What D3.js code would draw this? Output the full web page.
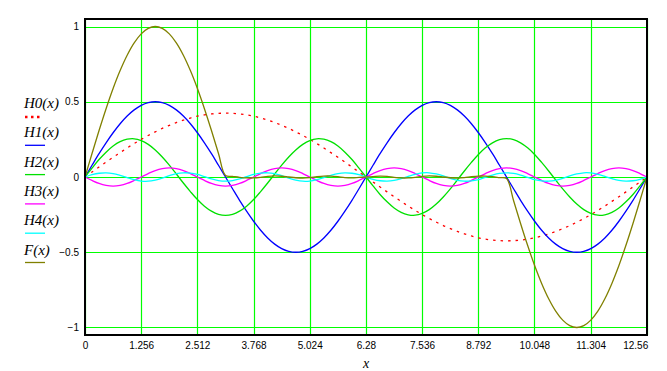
<!DOCTYPE html>
<html>
<head>
<script src="https://d3js.org/d3.v7.min.js"></script>
<style>
    body { margin: 0; background: #fff; }
    svg { display: block; }
    .tick text { font-family: 'Liberation Sans', Arial, sans-serif; font-size: 10px; fill: #000; }
    .legend-label, .x-title { font-family: 'Liberation Serif', 'Times New Roman', serif; font-style: italic; fill: #000; }
    .grid-line { stroke: #00ff00; stroke-width: 1.2; }
    .trace { fill: none; stroke-width: 1.3; }
</style>
</head>
<body>
<div id="chart"></div>
<script>
// sample step along x (pi/20), 81 samples from 0 to 4*pi
const step = 0.15708;

const h0 = [0, .033, .066, .099, .131, .162, .193, .222, .250, .276, .300, .323, .343, .362, .378, .392, .404, .413, .419, .423, .424,
    .423, .419, .413, .404, .392, .378, .362, .343, .323, .300, .276, .250, .222, .193, .162, .131, .099, .066, .033, 0,
    -.033, -.066, -.099, -.131, -.162, -.193, -.222, -.250, -.276, -.300, -.323, -.343, -.362, -.378, -.392, -.404, -.413, -.419, -.423, -.424,
    -.423, -.419, -.413, -.404, -.392, -.378, -.362, -.343, -.323, -.300, -.276, -.250, -.222, -.193, -.162, -.131, -.099, -.066, -.033, 0];

const h1 = [0, .078, .155, .227, .294, .354, .405, .446, .476, .494, .5, .494, .476, .446, .405, .354, .294, .227, .155, .078, 0,
    -.078, -.155, -.227, -.294, -.354, -.405, -.446, -.476, -.494, -.5, -.494, -.476, -.446, -.405, -.354, -.294, -.227, -.155, -.078, 0,
    .078, .155, .227, .294, .354, .405, .446, .476, .494, .5, .494, .476, .446, .405, .354, .294, .227, .155, .078, 0,
    -.078, -.155, -.227, -.294, -.354, -.405, -.446, -.476, -.494, -.5, -.494, -.476, -.446, -.405, -.354, -.294, -.227, -.155, -.078, 0];

const h2 = [0, .059, .116, .165, .206, .235, .251, .254, .242, .217, .180, .133, .079, .020, -.040, -.097, -.150, -.194, -.227, -.248, -.255,
    -.248, -.227, -.194, -.150, -.097, -.040, .020, .079, .133, .180, .217, .242, .254, .251, .235, .206, .165, .116, .059, 0,
    -.059, -.116, -.165, -.206, -.235, -.251, -.254, -.242, -.217, -.180, -.133, -.079, -.020, .040, .097, .150, .194, .227, .248, .255,
    .248, .227, .194, .150, .097, .040, -.020, -.079, -.133, -.180, -.217, -.242, -.254, -.251, -.235, -.206, -.165, -.116, -.059, 0];

const h3 = [0, -.023, -.043, -.056, -.061, -.056, -.043, -.023, 0, .023, .043, .056, .061, .056, .043, .023,
    0, -.023, -.043, -.056, -.061, -.056, -.043, -.023, 0, .023, .043, .056, .061, .056, .043, .023,
    0, -.023, -.043, -.056, -.061, -.056, -.043, -.023, 0, .023, .043, .056, .061, .056, .043, .023,
    0, -.023, -.043, -.056, -.061, -.056, -.043, -.023, 0, .023, .043, .056, .061, .056, .043, .023,
    0, -.023, -.043, -.056, -.061, -.056, -.043, -.023, 0, .023, .043, .056, .061, .056, .043, .023, 0];

const h4 = [0, .015, .025, .028, .023, .011, -.004, -.018, -.027, -.028, -.020, -.007, .009, .022, .028, .026, .017, .002, -.013, -.024, -.028,
    -.024, -.013, .002, .017, .026, .028, .022, .009, -.007, -.020, -.028, -.027, -.018, -.004, .011, .023, .028, .025, .015, 0,
    -.015, -.025, -.028, -.023, -.011, .004, .018, .027, .028, .020, .007, -.009, -.022, -.028, -.026, -.017, -.002, .013, .024, .028,
    .024, .013, -.002, -.017, -.026, -.028, -.022, -.009, .007, .020, .028, .027, .018, .004, -.011, -.023, -.028, -.025, -.015, 0];

const fx = [0, .156, .309, .454, .588, .707, .809, .891, .951, .988, 1, .988, .951, .891, .809, .707, .588, .454, .309, .156, .01,
    .004, -.002, -.006, -.006, -.002, .004, .007, .005, 0, -.005, -.007, -.004, .002, .006, .006, .002, -.004, -.006, -.003, 0,
    .003, .006, .004, -.002, -.006, -.006, -.002, .004, .007, .005, 0, -.005, -.007, -.004, .002, .006, .006, .002, -.004, -.01,
    -.156, -.309, -.454, -.588, -.707, -.809, -.891, -.951, -.988, -1, -.988, -.951, -.891, -.809, -.707, -.588, -.454, -.309, -.156, 0];

const xTicks = [0, 1.256, 2.512, 3.768, 5.024, 6.28, 7.536, 8.792, 10.048, 11.304, 12.56];
const xTickLabels = ["0", "1.256", "2.512", "3.768", "5.024", "6.28", "7.536", "8.792", "10.048", "11.304", "12.56"];
const yTicks = [-1, -0.5, 0, 0.5, 1];
const yTickLabels = ["\u22121", "\u22120.5", "0", "0.5", "1"];

const seriesNames = ["H0(x)", "H1(x)", "H2(x)", "H3(x)", "H4(x)", "F(x)"];
const seriesColors = ["#ff0000", "#0000ff", "#00e000", "#ff00ff", "#00ffff", "#808000"];
const seriesData = [h0, h1, h2, h3, h4, fx];

// layout
const W = 667, H = 371;
const plotLeft = 85, plotRight = 647, plotTop = 19, plotBottom = 335;

const svg = d3.select("#chart").append("svg")
    .attr("width", W)
    .attr("height", H);

const x = d3.scaleLinear().domain([0, 12.566]).range([plotLeft, plotRight]);
const y = d3.scaleLinear().domain([-1.05, 1.05]).range([plotBottom, plotTop]);

// snap a position to the pixel grid so 1px lines stay solid
const snap = v => Math.round(v) + 0.5;

// gridlines
const grid = svg.append("g");
grid.selectAll(".vgrid")
    .data(xTicks)
    .join("line")
    .attr("class", "grid-line")
    .attr("x1", d => snap(x(d)))
    .attr("x2", d => snap(x(d)))
    .attr("y1", plotTop)
    .attr("y2", plotBottom);
grid.selectAll(".hgrid")
    .data(yTicks)
    .join("line")
    .attr("class", "grid-line")
    .attr("x1", plotLeft)
    .attr("x2", plotRight)
    .attr("y1", d => snap(y(d)))
    .attr("y2", d => snap(y(d)));

// tick labels
const xAxis = svg.append("g")
    .attr("transform", `translate(0,${plotBottom})`)
    .call(d3.axisBottom(x).tickValues(xTicks).tickSize(0).tickPadding(7)
        .tickFormat((d, i) => xTickLabels[i]));
xAxis.select(".domain").remove();
xAxis.selectAll(".tick").filter((d, i) => i === xTicks.length - 1)
    .select("text").attr("text-anchor", "end").attr("x", 1);

const yAxis = svg.append("g")
    .attr("transform", `translate(${plotLeft},0)`)
    .call(d3.axisLeft(y).tickValues(yTicks).tickSize(0).tickPadding(6)
        .tickFormat((d, i) => yTickLabels[i]));
yAxis.select(".domain").remove();

// traces
const line = d3.line()
    .x((d, i) => x(i * step))
    .y(d => y(d))
    .curve(d3.curveCatmullRom);

seriesData.forEach((data, s) => {
    const p = svg.append("path")
        .datum(data)
        .attr("class", "trace")
        .attr("stroke", seriesColors[s])
        .attr("d", line);
    if (s === 0) {
        p.attr("stroke-width", 2.5).attr("stroke-dasharray", "2.5,5");
    }
});

// frame
svg.append("rect")
    .attr("x", plotLeft)
    .attr("y", plotTop)
    .attr("width", plotRight - plotLeft)
    .attr("height", plotBottom - plotTop)
    .attr("fill", "none")
    .attr("stroke", "#000")
    .attr("stroke-width", 2);

// x title
svg.append("text")
    .attr("class", "x-title")
    .attr("x", 366)
    .attr("y", 368)
    .attr("text-anchor", "middle")
    .style("font-size", "14px")
    .text("x");

// legend on the left
const legend = svg.append("g");
seriesNames.forEach((name, i) => {
    const by = 108 + i * 29.3;
    legend.append("text")
        .attr("class", "legend-label")
        .attr("x", 24)
        .attr("y", by)
        .style("font-size", "15px")
        .text(name);
    const l = legend.append("line")
        .attr("x1", 25)
        .attr("x2", 45)
        .attr("y1", by + 8)
        .attr("y2", by + 8)
        .attr("stroke", seriesColors[i])
        .attr("stroke-width", 1.3);
    if (i === 0) {
        l.attr("y1", by + 9).attr("y2", by + 9)
            .attr("x2", 41)
            .attr("stroke-width", 2.5)
            .attr("stroke-dasharray", "2.5,3.5");
    }
});
</script>
</body>
</html>
